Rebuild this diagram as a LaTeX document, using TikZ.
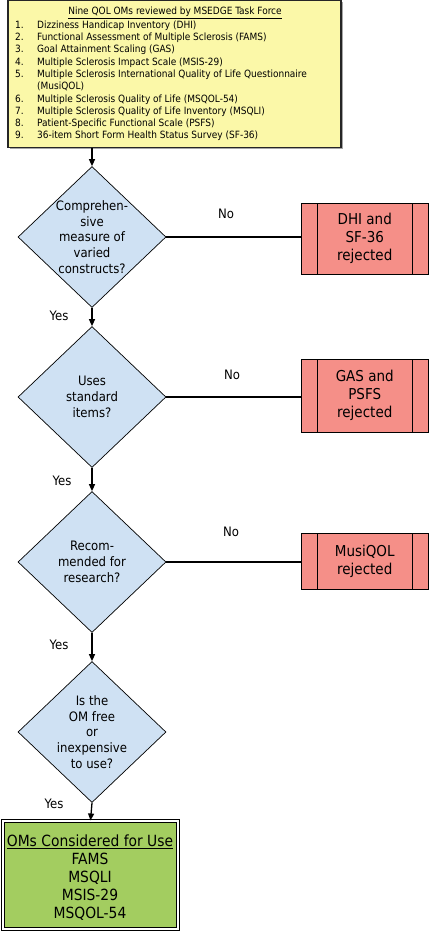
\documentclass[tikz,border=0pt]{standalone}
\usepackage{fontspec}
\setmainfont{DejaVu Sans Condensed}
\usetikzlibrary{shapes.geometric,arrows.meta,calc,shadows}
\definecolor{yellowc}{HTML}{FBF8A8}
\definecolor{bluec}{HTML}{CFE1F3}
\definecolor{salmonc}{HTML}{F58F88}
\definecolor{greenc}{HTML}{A3CD60}
\begin{document}
\begin{tikzpicture}[x=1pt,y=-1pt,
  dia/.style={diamond, draw, fill=bluec, minimum width=148pt, minimum height=141pt, inner sep=0pt, line width=0.7pt},
  diatext/.style={align=center, inner sep=0pt, font=\fontsize{13}{15.7}\selectfont},
  rej/.style={rectangle, draw, fill=salmonc, minimum width=127.5pt, inner sep=0pt, line width=0.8pt, align=center,
    font=\fontsize{15}{18}\selectfont,
    path picture={\draw[line width=0.8pt] ([xshift=16pt]path picture bounding box.north west) -- ([xshift=16pt]path picture bounding box.south west);
      \draw[line width=0.8pt] ([xshift=-16pt]path picture bounding box.north east) -- ([xshift=-16pt]path picture bounding box.south east);}},
  lbl/.style={inner sep=0pt, font=\fontsize{13}{15}\selectfont},
  arr/.style={line width=1.3pt, -{Triangle[length=7pt,width=6pt]}},
  conn/.style={line width=1.3pt}]
\useasboundingbox (0,0) rectangle (429,932);
% top box
\node[draw=black!85, fill=yellowc, minimum width=333pt, minimum height=147pt, inner sep=0pt, line width=1.2pt,
  drop shadow={shadow xshift=1.8pt, shadow yshift=-1.8pt, fill=black!35, opacity=1}] (top) at (174.5,74) {};
\node[inner sep=0pt, font=\fontsize{10}{12}\selectfont] (title) at (175,13) {\underline{Nine QOL OMs reviewed by MSEDGE Task Force}};
\node[anchor=north west, inner sep=0pt] (list) at (15,19.4) {\fontsize{10}{12.3}\selectfont
\begin{tabular}{@{}p{22pt}@{}l@{}}
1. & Dizziness Handicap Inventory (DHI)\\
2. & Functional Assessment of Multiple Sclerosis (FAMS)\\
3. & Goal Attainment Scaling (GAS)\\
4. & Multiple Sclerosis Impact Scale (MSIS-29)\\
5. & Multiple Sclerosis International Quality of Life Questionnaire\\
   & (MusiQOL)\\
6. & Multiple Sclerosis Quality of Life (MSQOL-54)\\
7. & Multiple Sclerosis Quality of Life Inventory (MSQLI)\\
8. & Patient-Specific Functional Scale (PSFS)\\
9. & 36-item Short Form Health Status Survey (SF-36)
\end{tabular}};
% diamonds
\node[dia] (d1) at (92,237) {};
\node[diatext] (t1) at (d1) {Comprehen-\\sive\\measure of\\varied\\constructs?};
\node[dia] (d2) at (92,397) {};
\node[diatext] (t2) at (d2) {Uses\\standard\\items?};
\node[dia] (d3) at (92,562) {};
\node[diatext] (t3) at (d3) {Recom-\\mended for\\research?};
\node[dia] (d4) at (92,732) {};
\node[diatext] (t4) at (d4) {Is the\\OM free\\or\\inexpensive\\to use?};
% rejected boxes
\node[rej, minimum height=71pt] (r1) at (364.75,238.5) {DHI and\\SF-36\\rejected};
\node[rej, minimum height=73pt] (r2) at (364.75,395.5) {GAS and\\PSFS\\rejected};
\node[rej, minimum height=56pt] (r3) at (364.75,561) {MusiQOL\\rejected};
% final box
\node[draw, double, double distance=2pt, line width=1pt, fill=greenc, minimum width=175pt, minimum height=108pt, inner sep=0pt] (fin) at (90.5,875) {};
\node[align=center, inner sep=0pt, font=\fontsize{15.4}{18}\selectfont] (fint) at (90,878) {\underline{OMs Considered for Use}\\FAMS\\MSQLI\\MSIS-29\\MSQOL-54};
% connectors
\draw[arr] (d1.north |- top.south) -- (d1.north);
\draw[arr] (d1.south) -- (d2.north);
\draw[arr] (d2.south) -- (d3.north);
\draw[arr] (d3.south) -- (d4.north);
\draw[arr] (d4.south) -- (fin.north);
\draw[conn] (d1.east) -- (d1.east -| r1.west);
\draw[conn] (d2.east) -- (d2.east -| r2.west);
\draw[conn] (d3.east) -- (d3.east -| r3.west);
% labels
\node[lbl] (no1) at (226,214) {No};
\node[lbl] (no2) at (232,375) {No};
\node[lbl] (no3) at (231,532) {No};
\node[lbl] (y1) at (59,316) {Yes};
\node[lbl] (y2) at (62,481) {Yes};
\node[lbl] (y3) at (59,645) {Yes};
\node[lbl] (y4) at (54,804) {Yes};
\end{tikzpicture}
\end{document}
